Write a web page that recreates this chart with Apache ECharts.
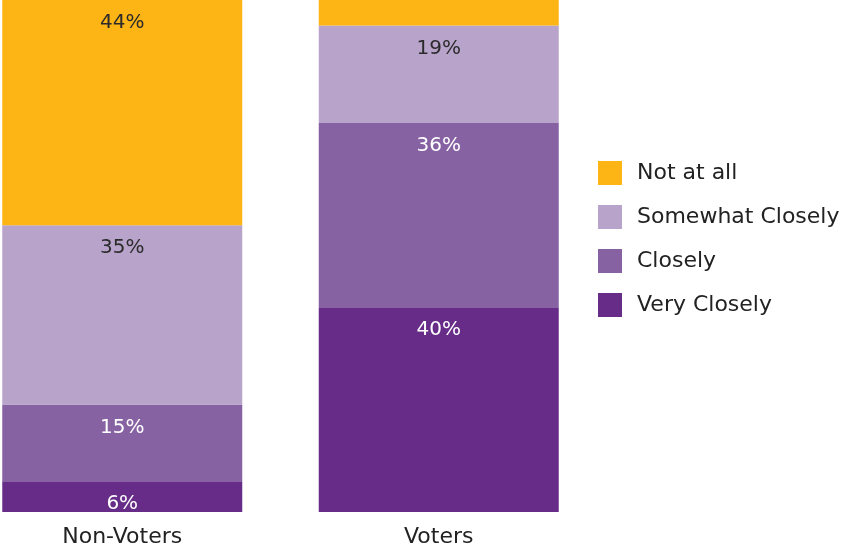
<!DOCTYPE html>
<html>
<head>
<meta charset="utf-8">
<script src="https://cdn.jsdelivr.net/npm/echarts@6/dist/echarts.min.js"></script>
<style>html,body{margin:0;padding:0;background:#fff}#c{width:841px;height:546px}</style>
</head>
<body>
<div id="c"></div>
<script>
const categories = ['Non-Voters', 'Voters'];
const seriesNames = ['Very Closely', 'Closely', 'Somewhat Closely', 'Not at all'];
const veryClosely = [6, 40];
const closely = [15, 36];
const somewhatClosely = [35, 19];
const notAtAll = [44, 5];
const legendOrder = ['Not at all', 'Somewhat Closely', 'Closely', 'Very Closely'];

const colors = ['#672C88', '#8762A3', '#B8A3CA', '#FDB415'];
const labelColors = ['#ffffff', '#ffffff', '#2b2b2b', '#2b2b2b'];
const allData = [veryClosely, closely, somewhatClosely, notAtAll];
const FONT = '"DejaVu Sans", sans-serif';

const chart = echarts.init(document.getElementById('c'), null, {renderer: 'canvas'});
chart.setOption({
  animation: false,
  grid: {left: -36, width: 633, top: 0, bottom: 34, containLabel: false, outerBoundsMode: 'none'},
  xAxis: {
    type: 'category', data: categories,
    axisLine: {show: false}, axisTick: {show: false},
    axisLabel: {color: '#222', fontSize: 22, fontFamily: FONT, margin: 14}
  },
  yAxis: {type: 'value', min: 0, max: 100, show: false},
  legend: {
    orient: 'vertical', left: 598, top: 161, padding: 0,
    itemWidth: 24, itemHeight: 24, itemGap: 20,
    icon: 'rect', data: legendOrder,
    textStyle: {fontSize: 22, fontFamily: FONT, color: '#222', padding: [0, 0, 0, 10]}
  },
  series: seriesNames.map((n, i) => ({
    name: n, type: 'bar', stack: 'total', barWidth: 240,
    data: allData[i],
    itemStyle: {color: colors[i]},
    label: {
      show: true, position: 'insideTop', distance: 13,
      color: labelColors[i], fontSize: 20, fontFamily: FONT,
      formatter: p => p.value < 10 && i === 3 ? '' : p.value + '%'
    }
  }))
});
</script>
</body>
</html>
